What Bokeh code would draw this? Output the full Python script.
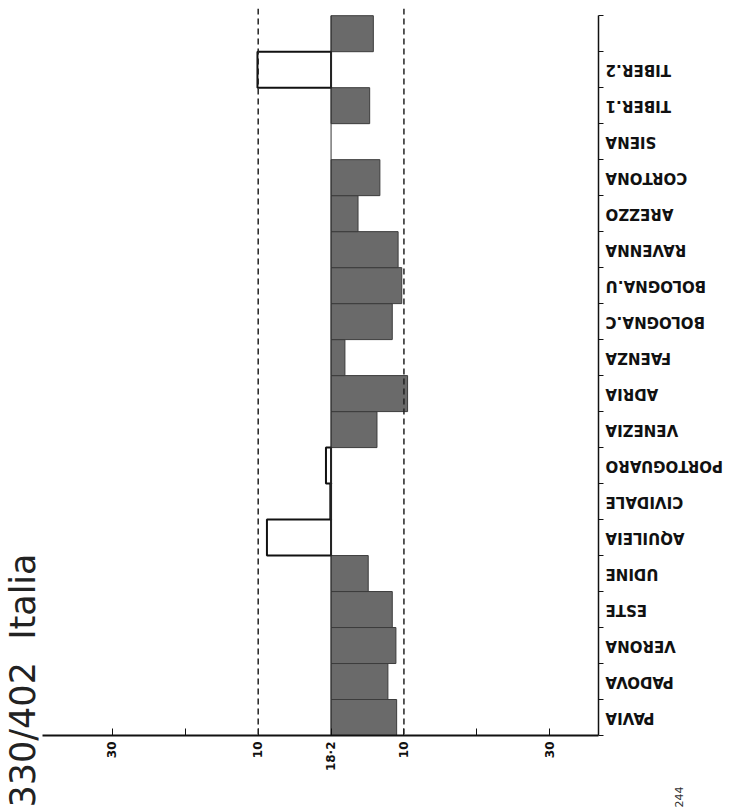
import math
from bokeh.plotting import figure
from bokeh.layouts import row
from bokeh.models import Range1d, FixedTicker, Span, Title, ColumnDataSource
from bokeh.core.properties import value
from bokeh.embed import file_html
from bokeh.resources import INLINE

# stations listed from the bottom of the chart to the top (top band is unlabeled)
stations = ["PAVIA", "PADOVA", "VERONA", "ESTE", "UDINE", "AQUILEIA", "CIVIDALE",
            "PORTOGUARO", "VENEZIA", "ADRIA", "FAENZA", "BOLOGNA.C", "BOLOGNA.U",
            "RAVENNA", "AREZZO", "CORTONA", "SIENA", "TIBER.1", "TIBER.2", ""]
# deviation from the mean (18·2); positive = filled bars, negative = open bars
deviation = [9.0, 7.8, 8.9, 8.4, 5.1, -8.8, -0.1, -0.7, 6.3, 10.5, 1.9, 8.4, 9.7,
             9.2, 3.7, 6.7, 0.0, 5.3, -10.1, 5.8]

x_ticks = [-30, -10, 0, 10, 30]
x_minor_ticks = [-20, 20]
x_tick_labels = ["30", "10", "18·2", "10", "30"]
ref_lines = [-10, 10]
title_text = "330/402\u00a0\u00a0Italia"
page_no = "244"

n = len(stations)

# ---- layout constants (pixels) ----
W, H = 737, 808
MAIN_W = 604
B_LEFT, B_RIGHT, B_TOP, B_BOTTOM = 41, 6, 8, 73
Y_TOP = n + 0.2
frame_h = H - B_TOP - B_BOTTOM
px_per_band = frame_h / Y_TOP

p = figure(width=MAIN_W, height=H, output_backend="svg", toolbar_location=None,
           x_range=Range1d(-39.6, 36.7), y_range=Range1d(0, Y_TOP),
           y_axis_location="right",
           min_border_left=B_LEFT, min_border_right=B_RIGHT,
           min_border_top=B_TOP, min_border_bottom=B_BOTTOM)
p.frame_align = False
p.outline_line_color = None
p.xgrid.visible = False
p.ygrid.visible = False
p.background_fill_color = "white"

# bars
pos = dict(bottom=[], top=[], left=[], right=[])
neg = dict(bottom=[], top=[], left=[], right=[])
for i, v in enumerate(deviation):
    if v > 0:
        pos["bottom"].append(i); pos["top"].append(i + 1)
        pos["left"].append(0); pos["right"].append(v)
    elif v < 0:
        neg["bottom"].append(i); neg["top"].append(i + 1)
        neg["left"].append(v); neg["right"].append(0)

p.quad(source=ColumnDataSource(pos), bottom="bottom", top="top", left="left", right="right",
       fill_color="#6a6a6a", line_color="#3c3c3c", line_width=1)
p.quad(source=ColumnDataSource(neg), bottom="bottom", top="top", left="left", right="right",
       fill_color=None, line_color="#111111", line_width=2)

# centre (mean) line
p.segment(x0=[0], y0=[0], x1=[0], y1=[n], line_color="#333333", line_width=1)

# dashed reference lines
for r in ref_lines:
    p.add_layout(Span(location=r, dimension="height", line_color="#222222",
                      line_width=1.5, line_dash="6 4"))

# bottom axis
xa = p.xaxis[0]
xa.ticker = FixedTicker(ticks=x_ticks, minor_ticks=x_minor_ticks)
xa.major_label_overrides = {t: l for t, l in zip(x_ticks, x_tick_labels)}
xa.major_label_orientation = math.pi / 2
xa.major_tick_in = 7
xa.major_tick_out = 0
xa.minor_tick_in = 7
xa.minor_tick_out = 0
xa.axis_line_width = 2
xa.axis_line_color = "#111111"
xa.major_tick_line_color = "#111111"
xa.minor_tick_line_color = "#111111"
xa.major_label_text_font = "DejaVu Sans"
xa.major_label_text_font_style = "bold"
xa.major_label_text_font_size = "12px"
xa.major_label_text_color = "#111111"
xa.major_label_standoff = 6

# right (category) axis: line + band-boundary ticks; names drawn in the side panel
ya = p.yaxis[0]
ya.ticker = FixedTicker(ticks=list(range(n + 1)))
ya.major_label_overrides = {i: "" for i in range(n + 1)}
ya.major_label_text_font_size = "0px"
ya.major_label_standoff = 0
ya.bounds = (0, n)
ya.major_tick_in = 0
ya.major_tick_out = 5
ya.minor_tick_in = 0
ya.minor_tick_out = 0
ya.axis_line_width = 1.5
ya.axis_line_color = "#111111"
ya.major_tick_line_color = "#111111"

# rotated title, lower left
p.add_layout(Title(text=title_text, align="left", vertical_align="bottom",
                   offset=-(H - B_TOP - frame_h - 1),
                   standoff=0, text_font="DejaVu Sans", text_font_style="normal",
                   text_font_size="35px", text_color="#222222"), "left")

# ---- side panel with the upside-down station names (same vertical scale) ----
side_w = W - MAIN_W
q = figure(width=side_w, height=H, output_backend="svg", toolbar_location=None,
           x_range=Range1d(0, side_w),
           y_range=Range1d(-B_BOTTOM / px_per_band, Y_TOP + B_TOP / px_per_band),
           x_axis_location=None, y_axis_location=None,
           min_border_left=0, min_border_right=0, min_border_top=0, min_border_bottom=0)
q.frame_align = False
q.outline_line_color = None
q.xgrid.visible = False
q.ygrid.visible = False

centers = [i + 0.5 for i in range(n)]
q.text(x=[1] * n, y=centers, text=stations, angle=math.pi,
       text_align="right", text_baseline="middle",
       text_font=value("DejaVu Sans"), text_font_style="bold",
       text_font_size="15px", text_color="#111111")

# page number, rotated, bottom right
q.text(x=[678 - MAIN_W], y=[-(807 - (H - B_BOTTOM)) / px_per_band], text=[page_no],
       angle=math.pi / 2, text_align="left", text_baseline="middle",
       text_font=value("DejaVu Sans"), text_font_size="11px", text_color="#333333")

layout = row(p, q, spacing=0)
open("out.html", "w").write(file_html(layout, INLINE))
